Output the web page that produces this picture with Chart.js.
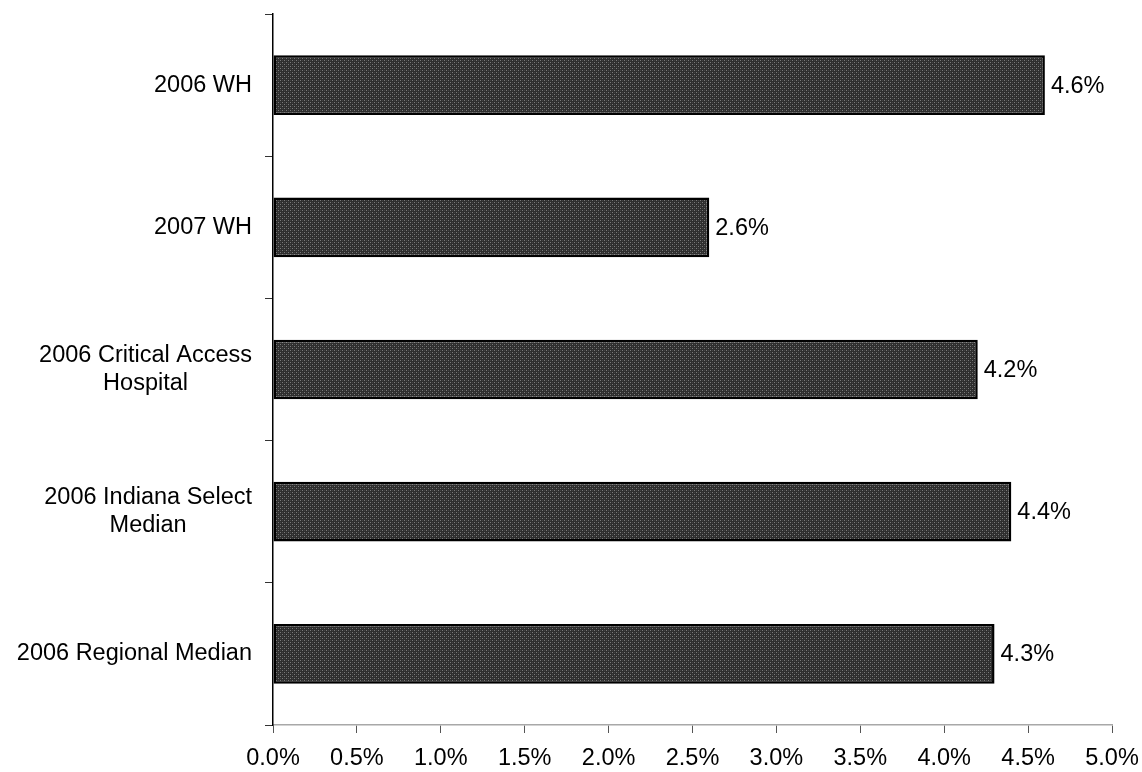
<!DOCTYPE html>
<html>
<head>
<meta charset="utf-8">
<script src="https://cdn.jsdelivr.net/npm/chart.js@4.4.1/dist/chart.umd.min.js"></script>
<style>
  html, body { margin: 0; padding: 0; background: #fff; }
  #wrap { width: 1142px; height: 772px; }
</style>
</head>
<body>
<div id="wrap"><canvas id="barChart" width="1142" height="772"></canvas></div>
<script>
// categories (multi-line labels as arrays) and values in percent
const categories = [
    ['2006 WH'],
    ['2007 WH'],
    ['2006 Critical Access', 'Hospital'],
    ['2006 Indiana Select', 'Median'],
    ['2006 Regional Median']
];
const values = [4.6, 2.6, 4.2, 4.4, 4.3];
const xTicks = [0, 0.5, 1, 1.5, 2, 2.5, 3, 3.5, 4, 4.5, 5];

const FONT = '"Liberation Sans", Arial, sans-serif';

// halftone-ish fill like the scanned bars
function makePattern() {
    const c = document.createElement('canvas');
    c.width = 4; c.height = 4;
    const g = c.getContext('2d');
    g.fillStyle = '#2e2e2e';
    g.fillRect(0, 0, 4, 4);
    g.fillStyle = '#7a7a7a';
    g.fillRect(0, 0, 1, 1);
    g.fillRect(2, 2, 1, 1);
    g.fillStyle = '#444';
    g.fillRect(2, 0, 1, 1);
    g.fillRect(0, 2, 1, 1);
    return g.createPattern(c, 'repeat');
}

// category labels: block right-aligned to the axis, lines centred inside it
const categoryLabels = {
    id: 'categoryLabels',
    afterDraw(chart) {
        const ctx = chart.ctx;
        const yScale = chart.scales.y;
        ctx.save();
        ctx.font = '23.5px ' + FONT;
        ctx.fillStyle = '#000';
        ctx.textBaseline = 'middle';
        ctx.textAlign = 'center';
        const lineH = 28;
        categories.forEach((lines, i) => {
            const yc = yScale.getPixelForTick(i);
            const w = Math.max(...lines.map(l => ctx.measureText(l).width));
            const right = yScale.right - 21;
            const cx = right - w / 2;
            const y0 = yc - (lines.length - 1) * lineH / 2;
            lines.forEach((l, j) => ctx.fillText(l, cx, y0 + j * lineH));
        });
        ctx.restore();
    }
};

// value labels right of each bar
const valueLabels = {
    id: 'valueLabels',
    afterDatasetsDraw(chart) {
        const ctx = chart.ctx;
        const meta = chart.getDatasetMeta(0);
        ctx.save();
        ctx.font = '23.5px ' + FONT;
        ctx.fillStyle = '#000';
        ctx.textBaseline = 'middle';
        ctx.textAlign = 'left';
        meta.data.forEach((bar, i) => {
            ctx.fillText(values[i].toFixed(1) + '%', bar.x + 6, bar.y + 1);
        });
        ctx.restore();
    }
};

const ctx = document.getElementById('barChart').getContext('2d');
const chart = new Chart(ctx, {
    type: 'bar',
    data: {
        labels: categories,
        datasets: [{
            data: values,
            backgroundColor: makePattern(),
            borderColor: '#000',
            borderWidth: 2.5,
            borderSkipped: false,
            barPercentage: 0.42,
            categoryPercentage: 1
        }]
    },
    options: {
        indexAxis: 'y',
        responsive: false,
        animation: false,
        layout: { padding: { left: 0, right: 30, top: 14, bottom: 0 } },
        plugins: {
            legend: { display: false },
            tooltip: { enabled: false }
        },
        scales: {
            x: {
                min: 0,
                max: 5,
                afterBuildTicks: (scale) => { scale.ticks = xTicks.map(v => ({ value: v })); },
                afterFit: (scale) => {
                    scale.height = 47;
                    scale.paddingLeft = 0;
                    scale.paddingRight = 0;
                },
                border: { display: true, color: '#a8a8a8', width: 1.5 },
                grid: {
                    drawOnChartArea: false,
                    drawTicks: true,
                    tickLength: 8,
                    color: '#555'
                },
                ticks: {
                    color: '#000',
                    font: { family: FONT, size: 23.5 },
                    padding: 11,
                    maxRotation: 0,
                    callback: (v) => Number(v).toFixed(1) + '%'
                }
            },
            y: {
                afterFit: (scale) => { scale.width = 273; },
                border: { display: true, color: '#000', width: 1.5 },
                grid: {
                    offset: true,
                    drawOnChartArea: false,
                    drawTicks: true,
                    tickLength: 8,
                    color: '#333'
                },
                ticks: { display: false }
            }
        }
    },
    plugins: [categoryLabels, valueLabels]
});
</script>
</body>
</html>
